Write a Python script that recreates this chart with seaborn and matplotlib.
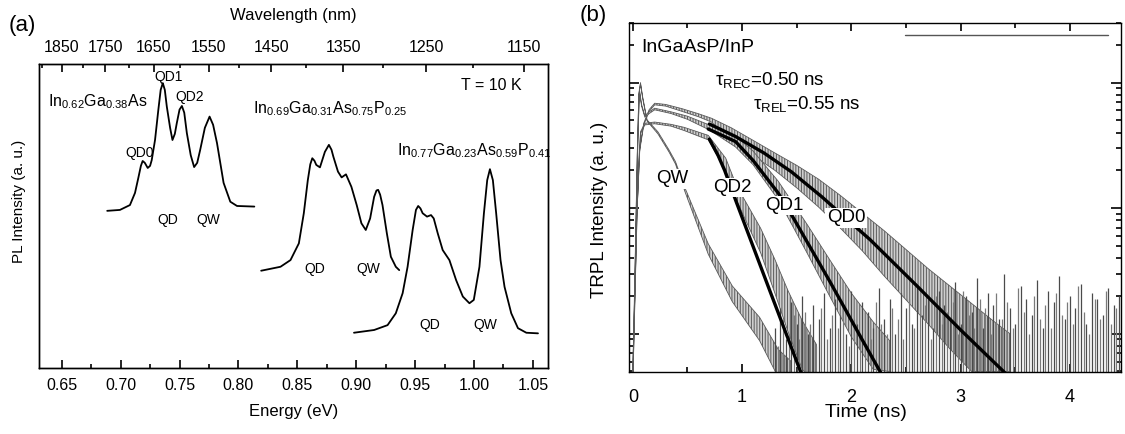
import numpy as np
import pandas as pd
import matplotlib
matplotlib.use("Agg")
import matplotlib.pyplot as plt
import seaborn as sns
from matplotlib.ticker import MultipleLocator, FixedLocator, LogLocator, NullFormatter, FormatStrFormatter

# ---------------- data: panel (a) PL spectra ----------------
energy_ingaas = [0.6886, 0.6994, 0.7079, 0.7122, 0.7150, 0.7172, 0.7187, 0.7205, 0.7230, 0.7250,
                 0.7264, 0.7292, 0.7320, 0.7340, 0.7358, 0.7375, 0.7392, 0.7420, 0.7440, 0.7460,
                 0.7477, 0.7500, 0.7520, 0.7540, 0.7562, 0.7595, 0.7624, 0.7650, 0.7675, 0.7715,
                 0.7755, 0.7785, 0.7818, 0.7874, 0.7931, 0.7988, 0.8135]
pl_ingaas = [0.517, 0.520, 0.536, 0.576, 0.625, 0.665, 0.681, 0.675, 0.658, 0.665,
             0.684, 0.750, 0.849, 0.915, 0.937, 0.915, 0.860, 0.790, 0.750, 0.770,
             0.806, 0.850, 0.862, 0.840, 0.773, 0.700, 0.661, 0.675, 0.717, 0.790,
             0.827, 0.800, 0.740, 0.609, 0.547, 0.533, 0.531]

energy_q069 = [0.8193, 0.8357, 0.8442, 0.8513, 0.8555, 0.8589, 0.8610, 0.8627, 0.8645, 0.8661,
               0.8692, 0.8734, 0.8768, 0.8790, 0.8806, 0.8845, 0.8876, 0.8913, 0.8959, 0.9004,
               0.9044, 0.9081, 0.9118, 0.9152, 0.9172, 0.9186, 0.9203, 0.9223, 0.9260, 0.9294,
               0.9336, 0.9365]
pl_q069 = [0.320, 0.333, 0.355, 0.410, 0.509, 0.618, 0.670, 0.690, 0.682, 0.668,
           0.660, 0.711, 0.734, 0.718, 0.695, 0.646, 0.627, 0.637, 0.596, 0.536,
           0.476, 0.454, 0.492, 0.563, 0.584, 0.586, 0.570, 0.536, 0.443, 0.366,
           0.333, 0.322]

energy_q077 = [0.8981, 0.9152, 0.9266, 0.9336, 0.9394, 0.9436, 0.9479, 0.9507, 0.9526, 0.9545,
               0.9564, 0.9601, 0.9635, 0.9658, 0.9692, 0.9734, 0.9791, 0.9848, 0.9905, 0.9961,
               0.9998, 1.0046, 1.0084, 1.0112, 1.0135, 1.0160, 1.0188, 1.0225, 1.0259, 1.0316,
               1.0373, 1.0444, 1.0543]
pl_q077 = [0.116, 0.125, 0.141, 0.180, 0.246, 0.333, 0.454, 0.520, 0.533, 0.525,
           0.509, 0.498, 0.503, 0.492, 0.443, 0.388, 0.355, 0.289, 0.235, 0.213,
           0.224, 0.333, 0.509, 0.618, 0.654, 0.618, 0.509, 0.355, 0.267, 0.180,
           0.131, 0.116, 0.114]

energy_ticks = [0.65, 0.70, 0.75, 0.80, 0.85, 0.90, 0.95, 1.00, 1.05]
wl_major = [1850, 1750, 1650, 1550, 1450, 1350, 1250, 1150]
wl_minor = [1900, 1800, 1700, 1600, 1500, 1400, 1300, 1200]
# wavelength scale as drawn on the reference's top axis
WL_SCALE = 1192.7
WL_OFFSET = 0.0053

# ---------------- data: panel (b) TRPL transients ----------------
qw_t = [0.00, 0.02, 0.04, 0.055, 0.07, 0.09, 0.13, 0.23, 0.33, 0.39, 0.48, 0.69, 0.91, 1.16, 1.33, 1.45]
qw_hi = [0.005, 0.033, 0.26, 0.81, 1.00, 0.77, 0.505, 0.405, 0.292, 0.235, 0.143, 0.052, 0.024, 0.0135, 0.0075, 0.006]
qw_lo = [0.004, 0.030, 0.24, 0.79, 0.98, 0.75, 0.495, 0.390, 0.281, 0.225, 0.133, 0.043, 0.018, 0.0088, 0.0045, 0.004]

qd2_t = [0.00, 0.04, 0.07, 0.11, 0.20, 0.35, 0.47, 0.69, 0.85, 0.95, 1.06, 1.17, 1.30, 1.42, 1.55, 1.68]
qd2_hi = [0.005, 0.101, 0.405, 0.475, 0.485, 0.465, 0.44, 0.38, 0.25, 0.15, 0.102, 0.069, 0.039, 0.022, 0.0127, 0.0082]
qd2_lo = [0.004, 0.099, 0.390, 0.460, 0.470, 0.450, 0.415, 0.35, 0.20, 0.115, 0.071, 0.044, 0.021, 0.0104, 0.0052, 0.004]

qd1_t = [0.00, 0.03, 0.045, 0.06, 0.08, 0.11, 0.15, 0.20, 0.35, 0.50, 0.70, 0.94, 1.10, 1.33, 1.47, 1.60, 1.80, 2.00, 2.20, 2.35]
qd1_hi = [0.005, 0.051, 0.32, 0.885, 0.67, 0.545, 0.585, 0.625, 0.585, 0.54, 0.46, 0.375, 0.285, 0.164, 0.108, 0.073, 0.039, 0.021, 0.0124, 0.0088]
qd1_lo = [0.004, 0.049, 0.31, 0.855, 0.65, 0.530, 0.567, 0.607, 0.567, 0.51, 0.42, 0.307, 0.222, 0.117, 0.070, 0.043, 0.020, 0.0094, 0.0052, 0.005]

qd0_t = [0.00, 0.03, 0.06, 0.10, 0.15, 0.20, 0.30, 0.45, 0.60, 0.72, 0.90, 1.10, 1.30, 1.50, 1.70, 1.90, 2.10, 2.30, 2.50, 2.70, 2.90, 3.10, 3.30, 3.45]
qd0_hi = [0.005, 0.064, 0.285, 0.475, 0.61, 0.685, 0.67, 0.62, 0.565, 0.52, 0.437, 0.347, 0.275, 0.219, 0.170, 0.126, 0.0912, 0.0661, 0.0468, 0.0331, 0.0240, 0.0174, 0.0126, 0.010]
qd0_lo = [0.004, 0.062, 0.276, 0.460, 0.59, 0.665, 0.65, 0.59, 0.535, 0.485, 0.347, 0.263, 0.200, 0.145, 0.102, 0.0692, 0.0457, 0.0288, 0.0186, 0.0120, 0.00759, 0.005, 0.005, 0.005]

floor_t = [1.30, 1.35, 1.40, 1.45, 1.50, 1.55, 1.60, 1.65,
           1.70, 1.75, 1.80, 1.85, 1.90, 1.95, 2.00, 2.05,
           2.10, 2.15, 2.20, 2.25, 2.30, 2.35, 2.40, 2.45,
           2.50, 2.55, 2.60, 2.65, 2.70, 2.75, 2.80, 2.85,
           2.90, 2.95, 3.00, 3.05, 3.10, 3.15, 3.20, 3.25,
           3.30, 3.35, 3.40, 3.45, 3.50, 3.55, 3.60, 3.65,
           3.70, 3.75, 3.80, 3.85, 3.90, 3.95, 4.00, 4.05,
           4.10, 4.15, 4.20, 4.25, 4.30, 4.35, 4.40, 4.45]
floor_hi = [0.011, 0.016, 0.009, 0.018, 0.012, 0.020, 0.010, 0.017,
            0.013, 0.021, 0.011, 0.019, 0.014, 0.010, 0.022, 0.012,
            0.018, 0.015, 0.011, 0.023, 0.013, 0.019, 0.010, 0.021,
            0.016, 0.012, 0.024, 0.014, 0.019, 0.011, 0.022, 0.017,
            0.013, 0.026, 0.012, 0.020, 0.015, 0.028, 0.011, 0.021,
            0.017, 0.013, 0.030, 0.016, 0.012, 0.024, 0.019, 0.014,
            0.027, 0.011, 0.022, 0.018, 0.029, 0.013, 0.020, 0.016,
            0.025, 0.012, 0.021, 0.019, 0.014, 0.023, 0.017, 0.020]
floor2_t = [1.325, 1.375, 1.425, 1.475, 1.525, 1.575, 1.625, 1.675,
            1.725, 1.775, 1.825, 1.875, 1.925, 1.975, 2.025, 2.075,
            2.125, 2.175, 2.225, 2.275, 2.325, 2.375, 2.425, 2.475,
            2.525, 2.575, 2.625, 2.675, 2.725, 2.775, 2.825, 2.875,
            2.925, 2.975, 3.025, 3.075, 3.125, 3.175, 3.225, 3.275,
            3.325, 3.375, 3.425, 3.475, 3.525, 3.575, 3.625, 3.675,
            3.725, 3.775, 3.825, 3.875, 3.925, 3.975, 4.025, 4.075,
            4.125, 4.175, 4.225, 4.275, 4.325, 4.375, 4.425]
floor2_hi = [0.008, 0.013, 0.010, 0.014, 0.009, 0.015, 0.012, 0.008,
             0.016, 0.009, 0.014, 0.011, 0.017, 0.008, 0.013, 0.010,
             0.015, 0.009, 0.018, 0.012, 0.010, 0.016, 0.013, 0.009,
             0.019, 0.011, 0.014, 0.017, 0.009, 0.020, 0.012, 0.015,
             0.018, 0.010, 0.022, 0.014, 0.011, 0.019, 0.016, 0.010,
             0.021, 0.013, 0.018, 0.011, 0.023, 0.015, 0.010, 0.020,
             0.013, 0.017, 0.011, 0.021, 0.014, 0.018, 0.012, 0.024,
             0.015, 0.010, 0.019, 0.013, 0.022, 0.012, 0.016]

fit_qd0_t = [0.70, 0.94, 1.20, 1.45, 1.73, 2.00, 2.17, 2.60, 3.00, 3.45]
fit_qd0_i = [0.468, 0.372, 0.275, 0.195, 0.123, 0.0759, 0.0562, 0.0240, 0.0107, 0.00447]
fit_qd1_t = [0.69, 0.94, 1.10, 1.33, 1.47, 1.80, 2.10, 2.30]
fit_qd1_i = [0.427, 0.339, 0.240, 0.132, 0.0832, 0.0263, 0.00891, 0.00437]
fit_qd2_t = [0.70, 0.78, 0.84, 0.95, 1.25, 1.56]
fit_qd2_i = [0.355, 0.263, 0.200, 0.110, 0.0224, 0.00437]

top_line_t = [2.49, 4.35]
top_line_i = [2.4, 2.4]

# ---------------- style ----------------
sns.set_theme(style="ticks")
plt.rcParams["font.family"] = ["Liberation Sans", "DejaVu Sans"]
plt.rcParams.update({
    "mathtext.fontset": "custom",
    "mathtext.rm": "Liberation Sans",
    "mathtext.it": "Liberation Sans:italic",
    "mathtext.bf": "Liberation Sans:bold",
    "hatch.linewidth": 0.7,
    "axes.edgecolor": "black",
    "axes.labelcolor": "black",
    "text.color": "black",
    "xtick.color": "black",
    "ytick.color": "black",
    "axes.linewidth": 1.0,
})

fig = plt.figure(figsize=(11.25, 4.34), dpi=100)
W, H = 1125.0, 434.0
axA = fig.add_axes([39 / W, 1 - 368 / H, 509 / W, 304 / H])
axB = fig.add_axes([629 / W, 1 - 371.7 / H, 491.7 / W, 349 / H])
XLIM_A = (0.6307, 1.0628)


def l2e(L):
    L = np.asarray(L, dtype=float)
    return WL_SCALE / L + WL_OFFSET


# top wavelength axis
axT = axA.twiny()
axT.set_xlim(*XLIM_A)
axT.set_xticks(l2e(wl_major))
axT.set_xticklabels([str(w) for w in wl_major])
axT.xaxis.set_minor_locator(FixedLocator(l2e(wl_minor)))
axT.tick_params(axis="x", which="major", direction="in", length=5.5, width=1.2, top=True, bottom=False,
                labeltop=True, labelsize=11.5, pad=6.5)
axT.tick_params(axis="x", which="minor", direction="in", length=3, width=1.2, top=True, bottom=False)
axT.set_xlabel("Wavelength (nm)", fontsize=12)
axT.xaxis.set_label_coords(0.5, 1.158)
axT.xaxis.label.set_va("center")

# ---------------- panel (a) ----------------
for E, I in [(energy_ingaas, pl_ingaas), (energy_q069, pl_q069), (energy_q077, pl_q077)]:
    sns.lineplot(x=E, y=I, ax=axA, color="black", lw=1.3, sort=False, estimator=None, legend=False)

axA.set_xlim(*XLIM_A)
axA.set_ylim(0, 1)
axA.set_yticks([])
axA.set_xticks(energy_ticks)
axA.xaxis.set_minor_locator(MultipleLocator(0.025))
axA.xaxis.set_major_formatter(FormatStrFormatter("%.2f"))
axA.tick_params(axis="x", which="major", direction="in", length=5.5, width=1.2, labelsize=11.5, pad=7)
axA.tick_params(axis="x", which="minor", direction="in", length=3, width=1.2)
axA.set_xlabel("Energy (eV)", fontsize=12)
axA.xaxis.set_label_coords(0.5, -0.143)
axA.xaxis.label.set_va("center")
axA.set_ylabel("PL Intensity (a. u.)", fontsize=11)
axA.yaxis.set_label_coords(-0.039, 0.549)
axA.yaxis.label.set_va("center")

txt_kw = dict(fontsize=10, ha="center", va="center")
axA.text(0.6384, 0.862, r"In$_{\mathregular{0.62}}$Ga$_{\mathregular{0.38}}$As", fontsize=11.5, ha="left", va="baseline")
axA.text(0.7411, 0.958, "QD1", **txt_kw)
axA.text(0.7589, 0.893, "QD2", **txt_kw)
axA.text(0.7160, 0.706, "QD0", **txt_kw)
axA.text(0.7403, 0.487, "QD", **txt_kw)
axA.text(0.7743, 0.487, "QW", **txt_kw)
axA.text(0.8125, 0.838, r"In$_{\mathregular{0.69}}$Ga$_{\mathregular{0.31}}$As$_{\mathregular{0.75}}$P$_{\mathregular{0.25}}$",
         fontsize=11.5, ha="left", va="baseline")
axA.text(0.8650, 0.325, "QD", **txt_kw)
axA.text(0.9100, 0.325, "QW", **txt_kw)
axA.text(0.9344, 0.701, r"In$_{\mathregular{0.77}}$Ga$_{\mathregular{0.23}}$As$_{\mathregular{0.59}}$P$_{\mathregular{0.41}}$",
         fontsize=11.5, ha="left", va="baseline")
axA.text(0.9620, 0.141, "QD", **txt_kw)
axA.text(1.0093, 0.141, "QW", **txt_kw)
axA.text(1.0150, 0.928, "T = 10 K", fontsize=11.5, ha="center", va="center")

fig.text(22 / W, 1 - 25 / H, "(a)", fontsize=16, ha="center", va="center")
fig.text(593 / W, 1 - 15 / H, "(b)", fontsize=16, ha="center", va="center")

# ---------------- panel (b) ----------------
axB.set_yscale("log")
band_kw = dict(facecolor="#cfcfcf", edgecolor="#5a5a5a", hatch="||||||", linewidth=0.6, zorder=2)
for t, lo, hi in [(qd0_t, qd0_lo, qd0_hi), (qd1_t, qd1_lo, qd1_hi), (qd2_t, qd2_lo, qd2_hi), (qw_t, qw_lo, qw_hi)]:
    axB.fill_between(t, lo, hi, **band_kw)
axB.vlines(floor_t, 0.004, floor_hi, colors="#4a4a4a", lw=0.9, zorder=2)
axB.vlines(floor2_t, 0.004, floor2_hi, colors="#7a7a7a", lw=0.9, zorder=2)

for t, I in [(fit_qd0_t, fit_qd0_i), (fit_qd1_t, fit_qd1_i), (fit_qd2_t, fit_qd2_i)]:
    sns.lineplot(x=t, y=I, ax=axB, color="black", lw=2.4, sort=False, estimator=None, legend=False, zorder=3)

axB.plot(top_line_t, top_line_i, color="#555555", lw=1.0)

axB.set_xlim(-0.035, 4.464)
axB.set_ylim(0.00498, 3.0)
axB.xaxis.set_major_locator(MultipleLocator(1))
axB.xaxis.set_minor_locator(MultipleLocator(0.5))
axB.yaxis.set_major_locator(LogLocator(base=10, numticks=10))
axB.yaxis.set_minor_locator(LogLocator(base=10, subs=np.arange(2, 10), numticks=20))
axB.yaxis.set_major_formatter(NullFormatter())
axB.yaxis.set_minor_formatter(NullFormatter())
axB.tick_params(axis="both", which="both", direction="in", top=True, right=True, left=True, bottom=True, width=1.2)
axB.tick_params(axis="x", which="major", length=6, labelsize=13, pad=12.5)
axB.tick_params(axis="x", which="minor", length=3.5)
axB.tick_params(axis="y", which="major", length=7.5)
axB.tick_params(axis="y", which="minor", length=3.5)
axB.set_xlabel("Time (ns)", fontsize=14)
axB.xaxis.set_label_coords(0.4816, -0.1166)
axB.xaxis.label.set_va("center")
axB.set_ylabel("TRPL Intensity (a. u.)", fontsize=13.5)
axB.yaxis.set_label_coords(-0.061, 0.465)
axB.yaxis.label.set_va("center")

lab_kw = dict(fontsize=13.5, ha="center", va="center", zorder=5,
              bbox=dict(facecolor="white", edgecolor="none", pad=1.0))
axB.text(0.363, 0.171, "QW", **lab_kw)
axB.text(0.912, 0.146, "QD2", **lab_kw)
axB.text(1.383, 0.105, "QD1", **lab_kw)
axB.text(1.951, 0.0835, "QD0", **lab_kw)

axB.text(0.081, 1.91, "InGaAsP/InP", fontsize=14, ha="left", va="center")
axB.text(0.752, 0.957, "τ$_{\\mathregular{REC}}$=0.50 ns", fontsize=13.5, ha="left", va="baseline")
axB.text(1.102, 0.614, "τ$_{\\mathregular{REL}}$=0.55 ns", fontsize=13.5, ha="left", va="baseline")

fig.savefig("out.png", dpi=100)
